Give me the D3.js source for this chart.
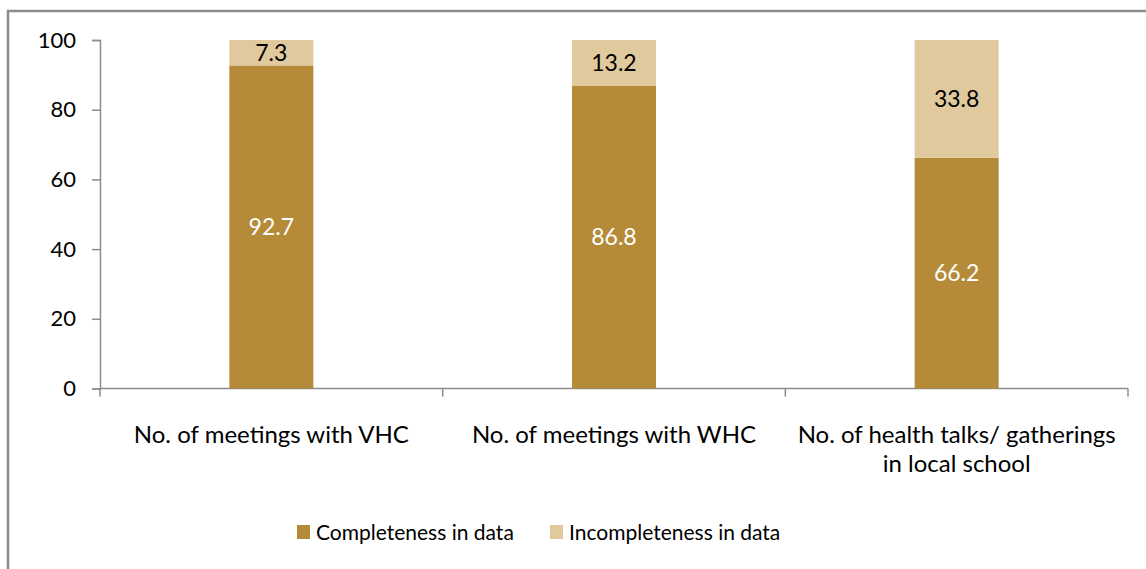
<!DOCTYPE html>
<html>
<head>
<meta charset="utf-8">
<script src="https://cdn.jsdelivr.net/npm/d3@7"></script>
<style>
 body { margin: 0; background: #fff; }
 svg text { font-family: Lato, "Open Sans", sans-serif; }
</style>
</head>
<body>
<div id="chart"></div>
<script>
// chart data
var categories = [["No. of meetings with VHC"], ["No. of meetings with WHC"], ["No. of health talks/ gatherings", "in local school"]];
var complete = [92.7, 86.8, 66.2];
var incomplete = [7.3, 13.2, 33.8];
var seriesNames = ["Completeness in data", "Incompleteness in data"];
var yTicks = [0, 20, 40, 60, 80, 100];

var w = 1146, h = 569,
 colComplete = "#b58b3a", colIncomplete = "#e0c99c", axisCOLOR = "#8c8c8c";

var mysvg = d3.select("#chart").append("svg").attr("width", w).attr("height", h);

// outer frame (runs past the right and bottom edge like the source)
mysvg.append("rect").attr("x", 8).attr("y", 11).attr("width", w + 20).attr("height", h + 20)
 .attr("fill", "none").attr("stroke", "#8c8c8c").attr("stroke-width", 2.5);

var x = d3.scaleBand().domain(d3.range(categories.length)).range([100, 1128]).paddingInner(0).paddingOuter(0),
 y = d3.scaleLinear().domain([0, 100]).range([388.5, 40]);
var barW = 84;

// y axis
var yAxis = mysvg.append("g").attr("transform", "translate(100,0)")
 .call(d3.axisLeft(y).tickValues(yTicks).tickSize(8).tickPadding(16));
yAxis.select(".domain").attr("stroke", axisCOLOR).attr("stroke-width", 1.5);
yAxis.selectAll(".tick line").attr("stroke", axisCOLOR).attr("stroke-width", 1.5);
yAxis.selectAll(".tick text").attr("font-size", 22).attr("fill", "#000").style("font-family", "Lato, sans-serif");

// x axis with ticks between categories
var xg = mysvg.append("g");
xg.append("line").attr("x1", 100).attr("x2", 1128).attr("y1", y(0)).attr("y2", y(0))
 .attr("stroke", axisCOLOR).attr("stroke-width", 1.5);
var bounds = d3.range(categories.length + 1).map(function(i) { return i < categories.length ? x(i) : x(i - 1) + x.bandwidth(); });
xg.selectAll("line.tk").data(bounds).enter().append("line").attr("class", "tk")
 .attr("x1", function(d) { return d; }).attr("x2", function(d) { return d; })
 .attr("y1", y(0)).attr("y2", y(0) + 8).attr("stroke", axisCOLOR).attr("stroke-width", 1.5);

// stacked bars
var stackData = complete.map(function(c, i) { return { i: i, c: c, n: incomplete[i] }; });
var bars = mysvg.append("g");
bars.selectAll("rect.c").data(stackData).enter().append("rect").attr("class", "c")
 .attr("x", function(d) { return x(d.i) + x.bandwidth() / 2 - barW / 2; })
 .attr("width", barW)
 .attr("y", function(d) { return y(d.c); })
 .attr("height", function(d) { return y(0) - y(d.c); })
 .attr("fill", colComplete);
bars.selectAll("rect.n").data(stackData).enter().append("rect").attr("class", "n")
 .attr("x", function(d) { return x(d.i) + x.bandwidth() / 2 - barW / 2; })
 .attr("width", barW)
 .attr("y", function(d) { return y(d.c + d.n); })
 .attr("height", function(d) { return y(d.c) - y(d.c + d.n); })
 .attr("fill", colIncomplete);

// value labels
bars.selectAll("text.c").data(stackData).enter().append("text")
 .attr("x", function(d) { return x(d.i) + x.bandwidth() / 2; })
 .attr("y", function(d) { return y(d.c / 2); })
 .attr("dy", "0.35em").attr("text-anchor", "middle").attr("font-size", 23).attr("fill", "#fff")
 .text(function(d) { return d.c.toFixed(1); });
bars.selectAll("text.n").data(stackData).enter().append("text")
 .attr("x", function(d) { return x(d.i) + x.bandwidth() / 2; })
 .attr("y", function(d) { return y(d.c + d.n / 2); })
 .attr("dy", "0.35em").attr("text-anchor", "middle").attr("font-size", 23).attr("fill", "#000")
 .text(function(d) { return d.n.toFixed(1); });

// category labels
categories.forEach(function(lines, i) {
 var t = mysvg.append("text").attr("text-anchor", "middle").attr("font-size", 24).attr("fill", "#000");
 lines.forEach(function(s, k) {
  t.append("tspan").attr("x", x(i) + x.bandwidth() / 2).attr("y", 443 + k * 29).text(s);
 });
});

// legend
var legX = [297, 550];
var legCols = [colComplete, colIncomplete];
var leg = mysvg.append("g");
seriesNames.forEach(function(s, i) {
 leg.append("rect").attr("x", legX[i]).attr("y", 525).attr("width", 13).attr("height", 14).attr("fill", legCols[i]);
 leg.append("text").attr("x", legX[i] + 19).attr("y", 540).attr("font-size", 21).attr("fill", "#000").text(s);
});
</script>
</body>
</html>
